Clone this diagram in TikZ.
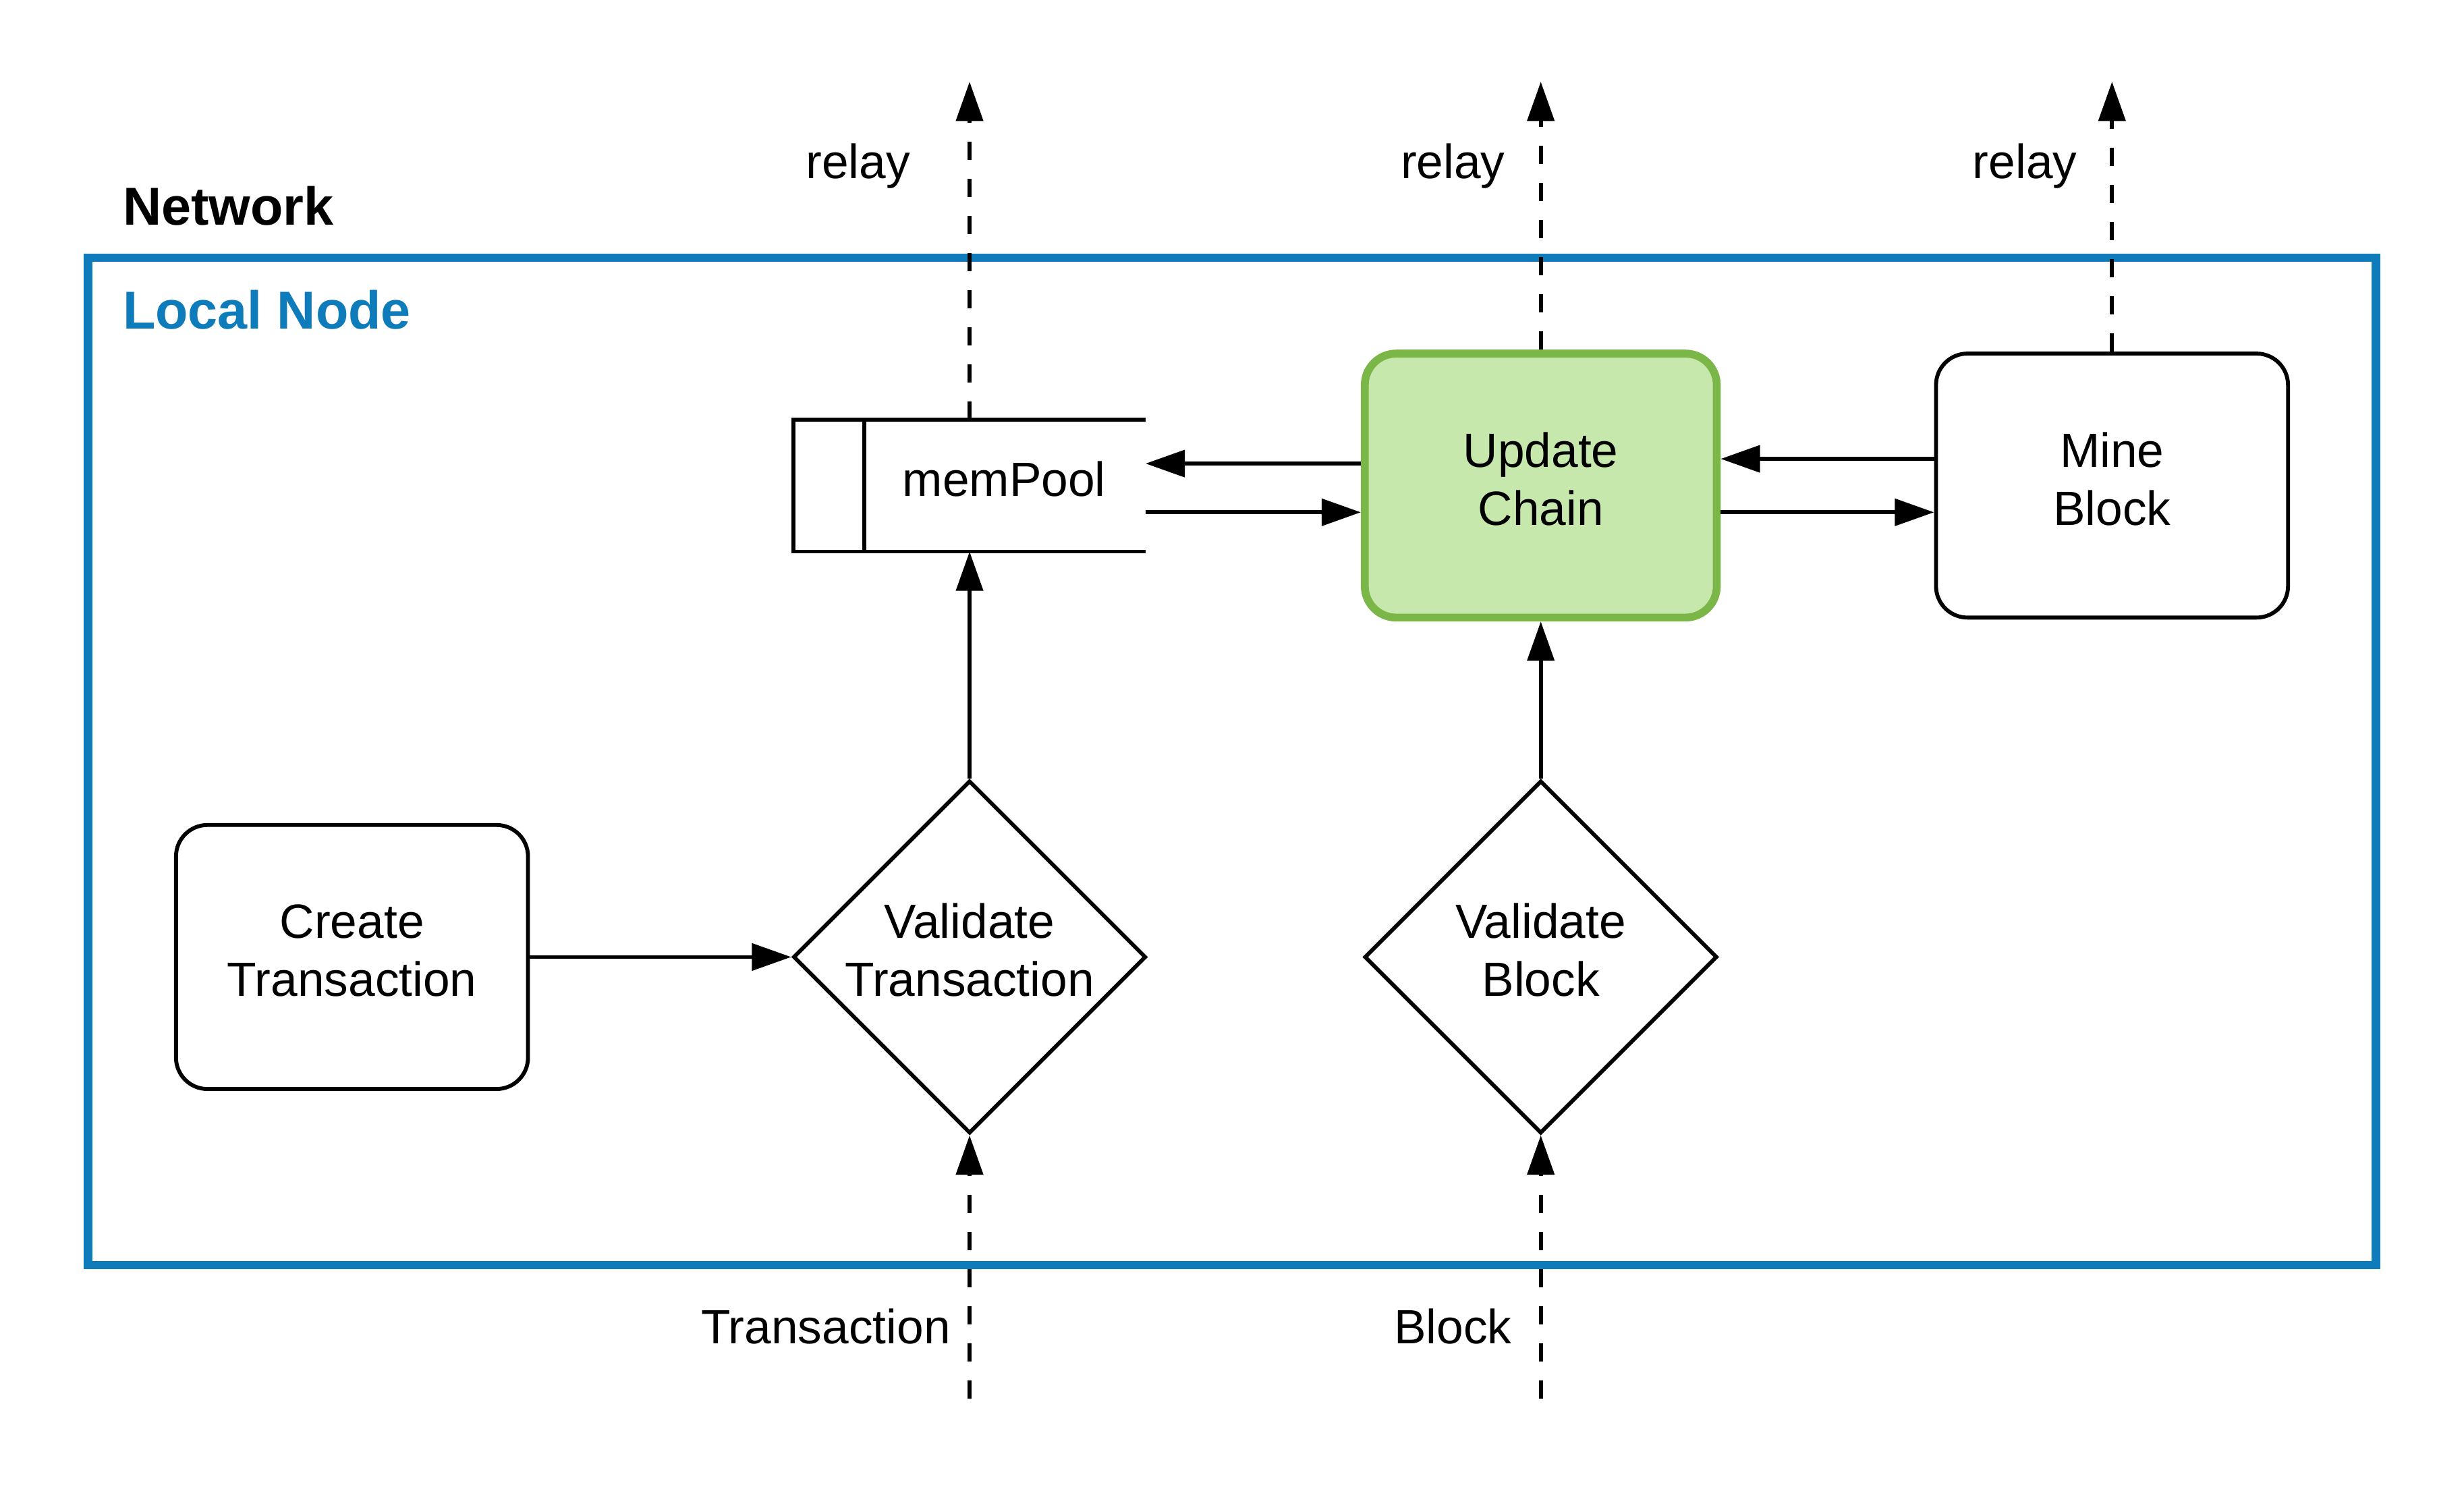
\documentclass[tikz,border=0pt]{standalone}
\usepackage{fontspec}
\setmainfont{Liberation Sans}
\usetikzlibrary{arrows.meta,shapes.geometric}
\definecolor{lnblue}{HTML}{0E7CBA}
\definecolor{ucfill}{HTML}{C7E8AC}
\definecolor{ucline}{HTML}{7AB648}
\begin{document}
\begin{tikzpicture}[x=1pt,y=-1pt,
  box/.style={draw,line width=2.5pt,rounded corners=20pt,minimum width=224pt,minimum height=168pt,inner sep=0pt},
  dia/.style={draw,diamond,line width=2.5pt,minimum width=224.5pt,minimum height=224.5pt,inner sep=0pt,aspect=1},
  txt/.style={font=\fontsize{30.6}{37}\selectfont,align=center,inner sep=0pt},
  ttl/.style={font=\fontsize{34}{40}\selectfont\bfseries,inner sep=0pt,anchor=base west},
  arr/.style={line width=2.5pt,-{Triangle[length=25pt,width=17pt]}},
  darr/.style={arr,dash pattern=on 11.6pt off 12pt}]
\fill[white] (0,0) rectangle (1568,945);
\useasboundingbox (0,0) rectangle (1568,945);

% outer frame
\node[draw=lnblue,line width=5.4pt,minimum width=1456pt,minimum height=641pt,inner sep=0pt] (local) at (784,484.5) {};
\node[ttl] (network) at (78,143) {Network};
\node[ttl,text=lnblue] (localt) at (78,209.5) {Local Node};

% nodes
\node[box] (ct) at (224,609) {};
\node[txt] (ctt) at ([yshift=4pt]ct.center) {Create\\Transaction};

\node[dia] (vt) at (617,609) {};
\node[txt] (vtt) at ([yshift=4.5pt]vt.center) {Validate\\Transaction};

\node[dia] (vb) at (980.5,609) {};
\node[txt] (vbt) at ([yshift=4.5pt]vb.center) {Validate\\Block};

\node[box,draw=ucline,fill=ucfill,line width=5pt] (uc) at (980.5,309) {};
\node[txt] (uct) at ([yshift=4pt]uc.center) {Update\\Chain};

\node[box] (mb) at (1344,309) {};
\node[txt] (mbt) at ([yshift=4pt]mb.center) {Mine\\Block};

% memPool (open data store)
\node[minimum width=224pt,minimum height=84pt,inner sep=0pt,outer sep=0pt] (mp) at (617,309) {};
\draw[line width=2.5pt] (mp.north east) -- (mp.north west) -- (mp.south west) -- (mp.south east);
\draw[line width=2.5pt] ([xshift=45pt]mp.north west) -- ([xshift=45pt]mp.south west);
\node[txt,anchor=base] (mpt) at (639,315.6) {memPool};

% connectors
\draw[arr] (ct.east) -- (vt.west);
\draw[arr] (vt.north) -- (mp.south);
\draw[arr] (vb.north) -- (uc.south);
\draw[arr] ([yshift=14pt]uc.west) -- ([yshift=14pt]mp.east);
\draw[arr] ([yshift=-17pt]mp.east) -- ([yshift=-17pt]uc.west);
\draw[arr] ([yshift=17pt]mb.west) -- ([yshift=17pt]uc.east);
\draw[arr] ([yshift=-17pt]uc.east) -- ([yshift=-17pt]mb.west);

% relays
\coordinate (r1) at (617,52);
\coordinate (r2) at (980.5,52);
\coordinate (r3) at (1344,52);
\draw[darr] (mp.north) -- (r1);
\draw[darr] (uc.north) -- (r2);
\draw[darr] (mb.north) -- (r3);
\node[txt,anchor=base] (l1) at (546,113.4) {relay};
\node[txt,anchor=base] (l2) at (924.5,113.4) {relay};
\node[txt,anchor=base] (l3) at (1288.5,113.4) {relay};

% incoming
\coordinate (i1) at (617,890);
\coordinate (i2) at (980.5,890);
\draw[darr] (i1) -- (vt.south);
\draw[darr] (i2) -- (vb.south);
\node[txt,anchor=base] (tin) at (525.5,855) {Transaction};
\node[txt,anchor=base] (bin) at (924.5,855) {Block};
\end{tikzpicture}
\end{document}
